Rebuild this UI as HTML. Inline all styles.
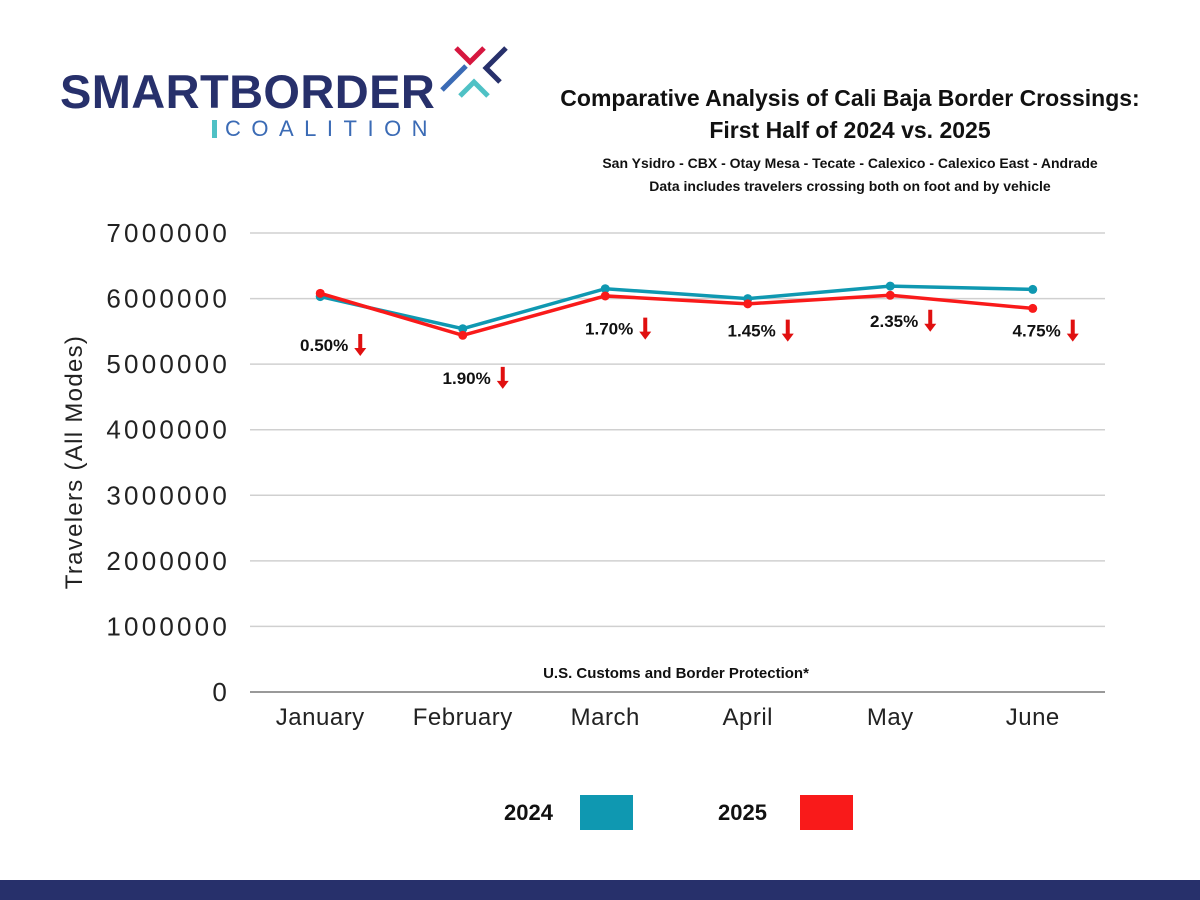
<!DOCTYPE html>
<html><head><meta charset="utf-8"><style>
body{margin:0;width:1200px;height:900px;background:#fff;position:relative;overflow:hidden;font-family:"Liberation Sans",sans-serif}
.t{position:absolute;font-weight:bold;color:#111;text-align:center}
</style></head><body>
<div style="position:absolute;left:60px;top:40px;width:460px;height:100px">
<div style="position:absolute;left:0;top:24px;font-size:47px;font-weight:bold;color:#27306b;letter-spacing:0.4px">SMARTBORDER</div>
<div style="position:absolute;left:152px;top:76px;font-size:22px;color:#3b6bb5;letter-spacing:10.5px"><span style="display:inline-block;width:5px;height:18px;background:#4fc1c5;margin-right:8px;vertical-align:-2px"></span>COALITION</div>
<svg style="position:absolute;left:378px;top:0" width="80" height="70">
<path d="M18 8 L32 22 L46 8" stroke="#d6173f" stroke-width="5" fill="none"/>
<path d="M68 8 L48 28 L62 42" stroke="#27306b" stroke-width="5" fill="none"/>
<path d="M28 26 L14 40 L4 50" stroke="#3b6bb5" stroke-width="5" fill="none"/>
<path d="M22 56 L36 42 L50 56" stroke="#4fc1c5" stroke-width="5" fill="none"/>
</svg>
</div>
<div class="t" style="left:505px;top:82px;width:690px;font-size:23px;line-height:32px">Comparative Analysis of Cali Baja Border Crossings:<br>First Half of 2024 vs. 2025</div>
<div class="t" style="left:505px;top:152px;width:690px;font-size:14px;line-height:23px">San Ysidro - CBX - Otay Mesa - Tecate - Calexico - Calexico East - Andrade<br>Data includes travelers crossing both on foot and by vehicle</div>
<svg id="c" width="1200" height="900" style="position:absolute;left:0;top:0"></svg>
<div style="position:absolute;left:0;top:880px;width:1200px;height:20px;background:#27306b"></div>
<script>
const months=["January","February","March","April","May","June"];
const v2024=[6030000,5540000,6150000,6000000,6190000,6140000];
const v2025=[6080000,5440000,6040000,5920000,6050000,5850000];
const pctLabels=["0.50%","1.90%","1.70%","1.45%","2.35%","4.75%"];
const pctY=[5200000,4700000,5450000,5420000,5570000,5420000];
const yTicks=[0,1000000,2000000,3000000,4000000,5000000,6000000,7000000];
const NS="http://www.w3.org/2000/svg",svg=document.getElementById('c');
const L=250,R=1105,T=233,B=692,MAX=7000000;
const y=v=>B-(v/MAX)*(B-T);
const bw=(R-L)/months.length;
const x=i=>L+bw*(i+0.5)-1;
function mk(tag,a,txt){const e=document.createElementNS(NS,tag);for(const k in a)e.setAttribute(k,a[k]);if(txt!=null)e.textContent=txt;svg.appendChild(e);return e;}
yTicks.forEach(t=>{
 const g=mk('line',{x1:L,x2:R,y1:y(t),y2:y(t),stroke:t?'#d0d0d0':'#999','stroke-width':t?1.5:2});
 
 
 const l=mk('text',{x:L-20,y:y(t)+9,'text-anchor':'end','font-size':26,'letter-spacing':3.2,fill:'#222'},String(t));
 
 
});
months.forEach((m,i)=>{
 const l=mk('text',{x:x(i),y:725,'text-anchor':'middle','font-size':24,'letter-spacing':0.5,fill:'#222'},m);
 
 
});
const yt=mk('text',{x:82,y:462,'text-anchor':'middle','font-size':24,'letter-spacing':1.3,fill:'#222',transform:'rotate(-90 82 462)'},'Travelers (All Modes)');


const src=mk('text',{x:676,y:678,'text-anchor':'middle','font-size':15,'font-weight':'bold',fill:'#111'},'U.S. Customs and Border Protection*');


[[v2024,'#0f98b1','series-2024'],[v2025,'#f91a1a','series-2025']].forEach(([d,c,n])=>{
 const p=mk('polyline',{points:d.map((v,i)=>x(i)+','+y(v)).join(' '),fill:'none',stroke:c,'stroke-width':3.5});
 
 
 d.forEach((v,i)=>{const ci=mk('circle',{cx:x(i),cy:y(v),r:4.5,fill:c});
  
  });
});
pctLabels.forEach((s,i)=>{
 const yy=y(pctY[i]);
 const t=mk('text',{x:x(i)+28,y:yy,'text-anchor':'end','font-size':17,'font-weight':'bold',fill:'#111'},s);
 
 
 const a=mk('path',{d:`M${x(i)+38} ${yy-17} v14 h-4 l6 8 l6 -8 h-4 v-14 z`,fill:'#e01010'});
 
 
});
[['2024','#0f98b1',504,580],['2025','#f91a1a',718,800]].forEach(([s,c,tx,rx])=>{
 const t=mk('text',{x:tx,y:820,'font-size':22,'font-weight':'bold',fill:'#111'},s);
 
 
 const r=mk('rect',{x:rx,y:795,width:53,height:35,fill:c});
 
 
});
</script>
</body></html>
